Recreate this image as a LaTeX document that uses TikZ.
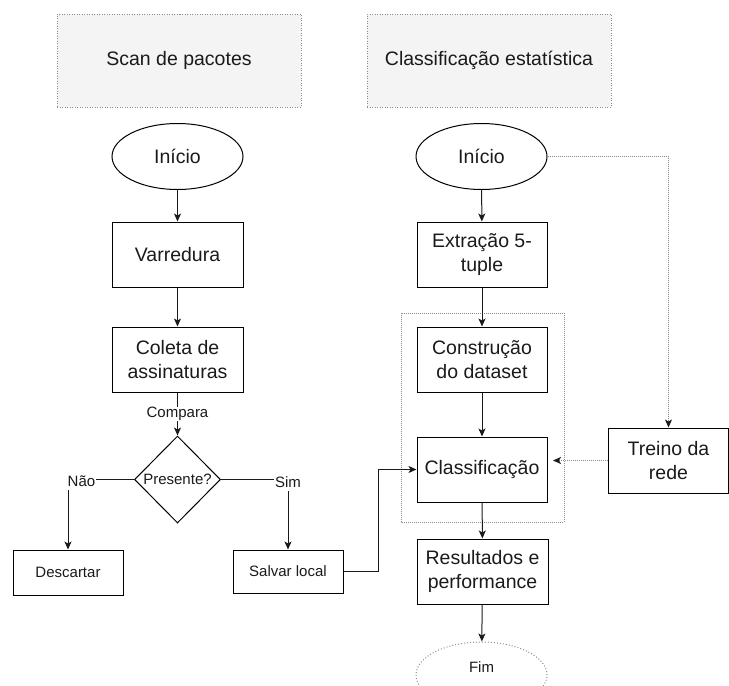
\documentclass[tikz,border=0pt]{standalone}
\usepackage{fontspec}
\setmainfont{Liberation Sans}
\usetikzlibrary{shapes.geometric,arrows.meta}
\definecolor{ink}{HTML}{1A1A1A}
\definecolor{dotgray}{HTML}{8C8C8C}
\definecolor{panel}{HTML}{F4F4F4}
\tikzset{
  big/.style={font=\fontsize{19.5}{23.4}\selectfont, text=ink},
  small/.style={font=\fontsize{15}{18}\selectfont, text=ink},
  box/.style={big, draw=black, line width=1pt, rectangle, inner sep=0pt, align=center},
  smallbox/.style={small, draw=black, line width=1pt, rectangle, inner sep=0pt, align=center},
  oval/.style={big, draw=black, line width=1pt, ellipse, inner sep=0pt, minimum width=131pt, minimum height=66pt},
  titlebox/.style={big, draw=dotgray, fill=panel, line width=0.8pt, dash pattern=on 1pt off 1.5pt,
    minimum width=244pt, minimum height=93pt, inner sep=0pt},
  dotline/.style={draw=dotgray, line width=1pt, dash pattern=on 1pt off 1pt},
  flow/.style={draw=ink, line width=1pt, -{Stealth[length=8pt,width=7pt,inset=2pt]}},
  dotflow/.style={dotline, -{Stealth[length=8pt,width=7pt,inset=2pt,color=ink,fill=ink]}},
  edgelabel/.style={small, fill=white, inner sep=0.6pt}
}
\begin{document}
\begin{tikzpicture}[x=1pt, y=-1pt]
  \useasboundingbox (0,0) rectangle (729,686);

  % column headers
  \node[titlebox] (h1) at (179,60.5) {Scan de pacotes};
  \node[titlebox] (h2) at (489,60.5) {Classificação estatística};

  % classification group frame
  \draw[dotline, line width=0.8pt] (401,313) rectangle (564,522);

  % left column: signature scan
  \node[oval] (s1) at (177.5,156.5) {Início};
  \node[box, minimum width=131pt, minimum height=65pt] (var) at (177.5,254.5) {Varredura};
  \node[box, minimum width=131pt, minimum height=65pt] (col) at (177.5,359.5) {Coleta de\\assinaturas};
  \node[small, draw=black, line width=1pt, diamond, inner sep=0pt, minimum width=86pt, minimum height=87pt] (dia) at (177.5,479.5) {Presente?};
  \node[smallbox, minimum width=110pt, minimum height=45pt] (desc) at (68,572.5) {Descartar};
  \node[smallbox, minimum width=110pt, minimum height=43pt] (salv) at (288,571.5) {Salvar local};

  % right column: statistical classification
  \node[oval] (s2) at (481.5,156.5) {Início};
  \node[box, minimum width=130pt, minimum height=65pt] (ext) at (482,254.5) {Extração 5-\\tuple};
  \node[box, minimum width=130pt, minimum height=65pt] (con) at (482,359.5) {Construção\\do dataset};
  \node[box, minimum width=130pt, minimum height=65pt] (cls) at (482,469.5) {Classificação};
  \node[box, minimum width=131pt, minimum height=65pt] (res) at (482.5,571.5) {Resultados e\\performance};
  \node[ellipse, draw=dotgray, line width=1pt, dash pattern=on 1pt off 2pt, inner sep=0pt,
        minimum width=131pt, minimum height=66pt] (fim) at (481.5,675) {};
  \node[small] (fimtxt) at (481.5,667) {Fim};
  \node[box, minimum width=120pt, minimum height=65pt] (tre) at (668.5,460.5) {Treino da\\rede};

  % left column connectors
  \draw[flow] (s1) -- (var);
  \draw[flow] (var) -- (col);
  \draw[flow] (col) -- node[edgelabel] {Compara} (dia);
  \draw[flow] (dia.west) -| (desc.north);
  \node[edgelabel, minimum height=18pt] (nao) at (81.5,481) {Não};
  \draw[flow] (dia.east) -| (salv.north);
  \node[edgelabel, minimum height=18pt] (sim) at (288,482) {Sim};
  \coordinate (bend) at (378,571.5);
  \draw[flow] (salv.east) -- (bend) |- (cls.west);

  % right column connectors
  \draw[flow] (s2) -- (ext);
  \draw[flow] (ext) -- (con);
  \draw[flow] (con) -- (cls);
  \draw[flow] (cls) -- (res);
  \draw[flow] (res) -- (fim);
  \draw[dotflow] (s2.east) -| (tre.north);
  \coordinate (feed) at (553,460.5);
  \draw[dotflow] (tre.west) -- (feed);
\end{tikzpicture}
\end{document}
